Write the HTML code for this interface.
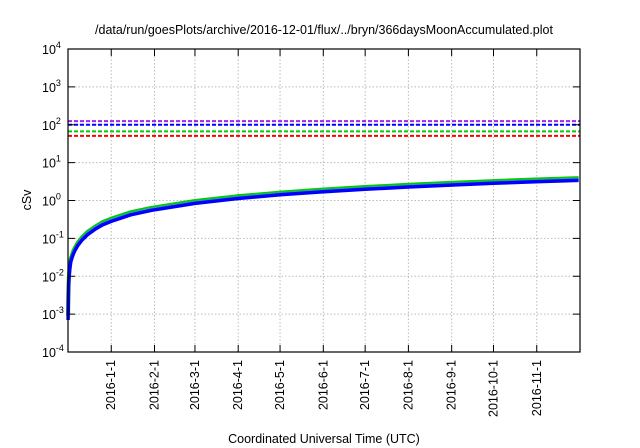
<!DOCTYPE html>
<html><head><meta charset="utf-8"><style>
body{margin:0;background:#fff;}
svg{display:block;font-family:"Liberation Sans",sans-serif;}
</style></head><body>
<svg id="chart" width="640" height="448" viewBox="0 0 640 448" xmlns="http://www.w3.org/2000/svg">
<text x="324" y="34" font-size="12.5" text-anchor="middle" fill="#000">/data/run/goesPlots/archive/2016-12-01/flux/../bryn/366daysMoonAccumulated.plot</text>
<text x="0" y="0" font-size="12.5" text-anchor="middle" transform="translate(31,200) rotate(-90)">cSv</text>
<text x="324" y="443" font-size="12.5" text-anchor="middle">Coordinated Universal Time (UTC)</text>
<g id="grid"></g>
<g id="marks"></g>
<g id="axes"></g>
</svg>
<script>
const yExponents = [-4,-3,-2,-1,0,1,2,3,4];
const xTickLabels = ["2016-1-1","2016-2-1","2016-3-1","2016-4-1","2016-5-1","2016-6-1","2016-7-1","2016-8-1","2016-9-1","2016-10-1","2016-11-1"];
const xTickDays = [31,62,91,122,152,183,213,244,275,305,336];
const days = [0.1,0.3,0.6,1,1.5,2,3,4,5,7,10,14,20,25,31,45,60,91,121,152,182,213,244,274,305,335,366];
const blueVals = [0.0007,0.003,0.007,0.012,0.018,0.024,0.032,0.04,0.048,0.065,0.09,0.125,0.18,0.23,0.28,0.42,0.55,0.84,1.12,1.41,1.69,1.98,2.27,2.55,2.84,3.12,3.4];
const greenVals = [0.0009,0.004,0.009,0.015,0.022,0.029,0.038,0.048,0.057,0.077,0.107,0.148,0.21,0.27,0.33,0.49,0.64,0.97,1.29,1.62,1.94,2.27,2.6,2.92,3.25,3.58,3.9];
const redVals = [0.0008,0.0035,0.008,0.013,0.02,0.026,0.035,0.044,0.052,0.071,0.1,0.137,0.2,0.25,0.31,0.46,0.6,0.91,1.21,1.52,1.82,2.13,2.44,2.74,3.05,3.36,3.7];
const limitNames = ["purple-limit","blue-limit","green-limit","red-limit"];
const limitVals = [125,100,67,51];
const limitColors = ["#a020f0","#0000ff","#00cc00","#ff0000"];

const L=68,R=580,T=49,B=352,D0=0,D1=367;
const NS="http://www.w3.org/2000/svg";
function xs(d){return L+(d-D0)/(D1-D0)*(R-L);}
function ys(v){return B-(Math.log10(v)+4)/8*(B-T);}
function mk(tag,attrs,parent){const e=document.createElementNS(NS,tag);for(const k in attrs)e.setAttribute(k,attrs[k]);parent.appendChild(e);return e;}
const grid=document.getElementById('grid'),marks=document.getElementById('marks'),axes=document.getElementById('axes');

yExponents.forEach(function(e){
  const y=ys(Math.pow(10,e));
  if(e>-4&&e<4){const g=mk('line',{x1:L,x2:R,y1:y,y2:y,stroke:'#bbb','stroke-dasharray':'1.5,2','stroke-width':1},grid);
  
  }
  const t1=mk('line',{x1:L,x2:L+7,y1:y,y2:y,stroke:'#000'},axes);
  
  
  const t2=mk('line',{x1:R-7,x2:R,y1:y,y2:y,stroke:'#000'},axes);
  
  
  const tx=mk('text',{x:L-26,y:y+5,'font-size':12.5,'text-anchor':'start'},axes);
  
  
  tx.textContent='10';
  const sp=mk('tspan',{dx:0,dy:-6,'font-size':9},tx);
  sp.textContent=String(e);
});

xTickDays.forEach(function(d,i){
  const x=xs(d);
  const g=mk('line',{x1:x,x2:x,y1:T,y2:B,stroke:'#bbb','stroke-dasharray':'1.5,2','stroke-width':1},grid);
  
  
  const t1=mk('line',{x1:x,x2:x,y1:B-7,y2:B,stroke:'#000'},axes);
  
  
  const t2=mk('line',{x1:x,x2:x,y1:T,y2:T+7,stroke:'#000'},axes);
  
  
  const tx=mk('text',{x:0,y:0,'font-size':12.5,'text-anchor':'end',transform:'translate('+(x+4)+','+(B+8)+') rotate(-90)'},axes);
  
  
  tx.textContent=xTickLabels[i];
});

const frame=mk('rect',{x:L,y:T,width:R-L,height:B-T,fill:'none',stroke:'#000','stroke-width':1.2},axes);



limitVals.forEach(function(v,i){
  const y=ys(v);
  const l=mk('line',{x1:L,x2:R,y1:y,y2:y,stroke:limitColors[i],'stroke-width':2,'stroke-dasharray':'4,2'},marks);
  
  
});

function series(vals,color,w,name){
  const p=vals.map(function(v,i){return (i?'L':'M')+xs(days[i]).toFixed(1)+','+ys(v).toFixed(1);}).join(' ');
  const el=mk('path',{d:p,fill:'none',stroke:color,'stroke-width':w,'stroke-linejoin':'round'},marks);
  
  
}
series(greenVals,'#00cc00',4,'green-series');
series(redVals,'#2aa0a0',3,'red-series');
series(blueVals,'#0000ff',3.5,'blue-series');
</script>
</body></html>
